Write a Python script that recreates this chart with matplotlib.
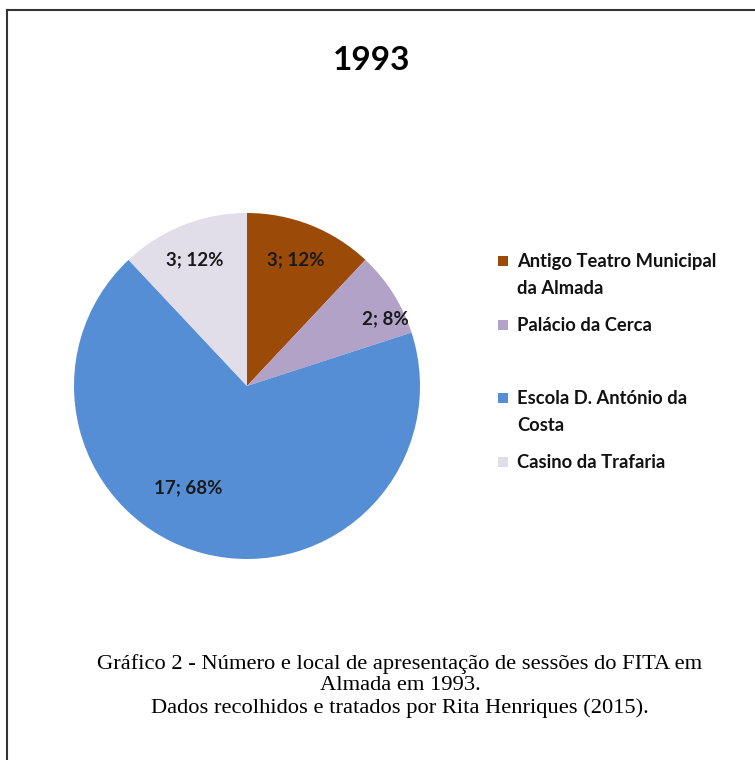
import matplotlib.pyplot as plt
from matplotlib.patches import Rectangle
from matplotlib.lines import Line2D

title = '1993'
locais = ['Antigo Teatro Municipal\nda Almada', 'Palácio da Cerca',
          'Escola D. António da\nCosta', 'Casino da Trafaria']
sessoes = [3, 2, 17, 3]
cores = ['#9c4a08', '#b3a2c7', '#558ed5', '#e1dde9']
caption = ('Gráfico 2 - Número e local de apresentação de sessões do FITA em\n'
           'Almada em 1993.\n'
           'Dados recolhidos e tratados por Rita Henriques (2015).')

W, H = 755, 760


def main():
    fig = plt.figure(figsize=(W / 100, H / 100), dpi=100)

    # frame: only top and left edges are visible in the original scan
    fig.add_artist(Line2D([7 / W, 7 / W], [0, 1 - 10 / H], transform=fig.transFigure,
                          color='#333333', lw=1.5))
    fig.add_artist(Line2D([7 / W, 1], [1 - 10 / H, 1 - 10 / H], transform=fig.transFigure,
                          color='#333333', lw=1.5))

    fig.text(372 / W, 1 - 61 / H, title, ha='center', va='center',
             fontsize=24, fontweight='bold', family='Lato')

    cx, cy, r = 247, 386, 173
    ax = fig.add_axes([(cx - r) / W, 1 - (cy + r) / H, 2 * r / W, 2 * r / H])
    total = sum(sessoes)
    wedges, texts = ax.pie(sessoes, colors=cores, startangle=90, counterclock=False,
                           radius=1, wedgeprops=dict(linewidth=0))
    ax.set_xlim(-1, 1)
    ax.set_ylim(-1, 1)
    ax.set_aspect('equal')
    ax.axis('off')

    # label placement roughly as Excel "best fit" put them
    label_pos = [(0.28, 0.73), (0.80, 0.39), (-0.34, -0.59), (-0.30, 0.73)]
    for v, (lx, ly) in zip(sessoes, label_pos):
        ax.text(lx, ly, f'{v}; {round(100 * v / total)}%', ha='center', va='center',
                fontsize=13.5, fontweight='bold', family='Lato', color='#1a1a1a')

    # legend drawn by hand (uneven spacing in the original)
    leg_y = [261, 325, 398, 462]
    for lab, col, y in zip(locais, cores, leg_y):
        fig.add_artist(Rectangle((498 / W, 1 - (y + 5) / H), 10 / W, 10 / H,
                                 transform=fig.transFigure, color=col, lw=0))
        fig.text(517 / W, 1 - (y - 8) / H, lab, ha='left', va='top',
                 fontsize=13.2, fontweight='bold', family='Lato', color='#111111',
                 linespacing=1.68)

    fig.text(400 / W, 1 - 654 / H, caption, ha='center', va='top',
             fontsize=16.2, family='Liberation Serif', linespacing=1.18)

    fig.savefig('out.png', dpi=100)


if __name__ == '__main__':
    main()
